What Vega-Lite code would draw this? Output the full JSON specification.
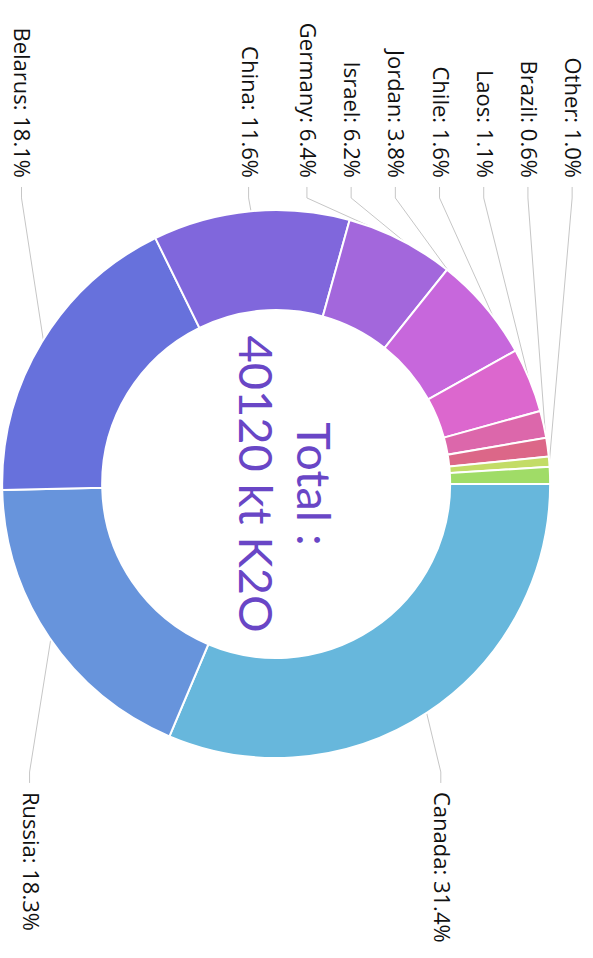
{
  "$schema": "https://vega.github.io/schema/vega-lite/v6.json",
  "width": 593,
  "height": 958,
  "autosize": {"type": "fit", "contains": "padding"},
  "padding": 0,
  "background": "white",
  "config": {"view": {"stroke": null}},
  "data": {
    "values": [
      {"country": "Canada", "share": 31.4, "order": 1},
      {"country": "Russia", "share": 18.3, "order": 2},
      {"country": "Belarus", "share": 18.1, "order": 3},
      {"country": "China", "share": 11.6, "order": 4},
      {"country": "Germany", "share": 6.4, "order": 5},
      {"country": "Israel", "share": 6.2, "order": 6},
      {"country": "Jordan", "share": 3.8, "order": 7},
      {"country": "Chile", "share": 1.6, "order": 8},
      {"country": "Laos", "share": 1.1, "order": 9},
      {"country": "Brazil", "share": 0.6, "order": 10},
      {"country": "Other", "share": 1.0, "order": 11}
    ]
  },
  "transform": [
    {"joinaggregate": [{"op": "sum", "field": "share", "as": "total"}]},
    {"window": [{"op": "sum", "field": "share", "as": "cum"}], "sort": [{"field": "order", "order": "ascending"}], "frame": [null, 0]},
    {"calculate": "PI/2 + 2*PI*(datum.cum - datum.share/2)/datum.total", "as": "mid"},
    {"calculate": "sin(datum.mid)", "as": "ex"},
    {"calculate": "cos(datum.mid)", "as": "ey"},
    {"calculate": "datum.ey >= 0 ? 'top' : 'bottom'", "as": "side"},
    {"calculate": "datum.order >= 5 ? 0.1131 + (datum.order - 5) * 0.1624 : 1.095 * datum.ex", "as": "lx"},
    {"calculate": "datum.side == 'top' ? 1.117 : -1.124", "as": "ly"},
    {"calculate": "datum.side == 'top' ? 1.084 : -1.091", "as": "ly1"},
    {"calculate": "datum.side == 'top' ? 1.044 : -1.051", "as": "ly2"},
    {"calculate": "datum.country + ': ' + format(datum.share, '.1f') + '%'", "as": "label"}
  ],
  "layer": [
    {
      "mark": {"type": "rule", "color": "#c6c6c6", "strokeWidth": 1},
      "encoding": {
        "x": {"field": "ex", "type": "quantitative", "scale": {"domain": [-1, 1.1642], "nice": false, "zero": false}, "axis": null},
        "y": {"field": "ey", "type": "quantitative", "scale": {"domain": [-1.7299, 1.7664], "nice": false, "zero": false}, "axis": null},
        "x2": {"field": "lx"},
        "y2": {"field": "ly2"}
      }
    },
    {
      "mark": {"type": "rule", "color": "#c6c6c6", "strokeWidth": 1},
      "encoding": {
        "x": {"field": "lx", "type": "quantitative", "scale": {"domain": [-1, 1.1642], "nice": false, "zero": false}, "axis": null},
        "y": {"field": "ly2", "type": "quantitative", "scale": {"domain": [-1.7299, 1.7664], "nice": false, "zero": false}, "axis": null},
        "x2": {"field": "lx"},
        "y2": {"field": "ly1"}
      }
    },
    {
      "mark": {"type": "arc", "innerRadius": 174, "outerRadius": 274, "stroke": "white", "strokeWidth": 2},
      "encoding": {
        "x": {"datum": 0, "type": "quantitative", "scale": {"domain": [-1, 1.1642], "nice": false, "zero": false}, "axis": null},
        "y": {"datum": 0, "type": "quantitative", "scale": {"domain": [-1.7299, 1.7664], "nice": false, "zero": false}, "axis": null},
        "theta": {"field": "share", "type": "quantitative", "stack": true, "scale": {"range": [1.5707963, 7.8539816]}},
        "order": {"field": "order", "type": "quantitative"},
        "color": {
          "field": "country", "type": "nominal", "legend": null,
          "scale": {
            "domain": ["Canada", "Russia", "Belarus", "China", "Germany", "Israel", "Jordan", "Chile", "Laos", "Brazil", "Other"],
            "range": ["#67b7dc", "#6794dc", "#6771dc", "#8067dc", "#a367dc", "#c767dc", "#dc67ce", "#dc67ab", "#dc6788", "#c3dc67", "#a0dc67"]
          }
        }
      }
    },
    {
      "transform": [{"filter": "datum.side == 'top'"}],
      "mark": {"type": "text", "angle": 90, "align": "right", "baseline": "middle", "font": "Open Sans", "fontSize": 22, "color": "#111111"},
      "encoding": {
        "x": {"field": "lx", "type": "quantitative", "scale": {"domain": [-1, 1.1642], "nice": false, "zero": false}, "axis": null},
        "y": {"field": "ly", "type": "quantitative", "scale": {"domain": [-1.7299, 1.7664], "nice": false, "zero": false}, "axis": null},
        "text": {"field": "label", "type": "nominal"}
      }
    },
    {
      "transform": [{"filter": "datum.side == 'bottom'"}],
      "mark": {"type": "text", "angle": 90, "align": "left", "baseline": "middle", "font": "Open Sans", "fontSize": 22, "color": "#111111"},
      "encoding": {
        "x": {"field": "lx", "type": "quantitative", "scale": {"domain": [-1, 1.1642], "nice": false, "zero": false}, "axis": null},
        "y": {"field": "ly", "type": "quantitative", "scale": {"domain": [-1.7299, 1.7664], "nice": false, "zero": false}, "axis": null},
        "text": {"field": "label", "type": "nominal"}
      }
    },
    {
      "data": {"values": [{"total": 40120}]},
      "mark": {"type": "text", "angle": 90, "align": "center", "baseline": "middle", "dy": -35, "font": "Lato", "fontSize": 47, "lineHeight": 58, "color": "#6946c6"},
      "encoding": {
        "x": {"datum": 0, "type": "quantitative", "scale": {"domain": [-1, 1.1642], "nice": false, "zero": false}, "axis": null},
        "y": {"datum": 0, "type": "quantitative", "scale": {"domain": [-1.7299, 1.7664], "nice": false, "zero": false}, "axis": null},
        "text": {"value": ["Total :", "40120 kt K2O"]}
      }
    }
  ]
}
